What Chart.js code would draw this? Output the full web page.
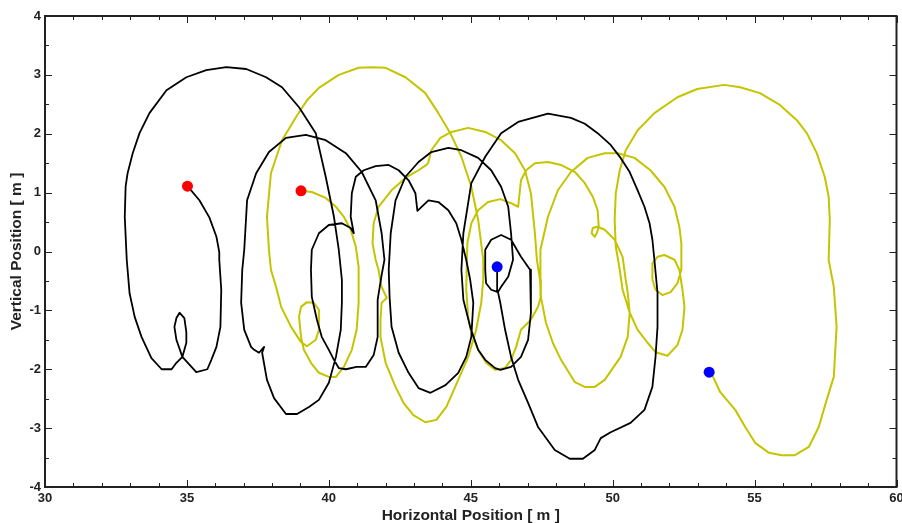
<!DOCTYPE html>
<html>
<head>
<meta charset="utf-8">
<script src="https://cdn.jsdelivr.net/npm/chart.js@4.4.0/dist/chart.umd.min.js"></script>
<style>
  html, body { margin: 0; padding: 0; background: #fff; }
</style>
</head>
<body>
<canvas id="trajectory-chart" width="902" height="523"></canvas>
<script>
// --- AXIS RANGES ---
const X_MIN = 30, X_MAX = 60, X_MAJOR = 5, X_MINOR = 1;
const Y_MIN = -4, Y_MAX = 4, Y_MAJOR = 1, Y_MINOR = 0.5;

// --- TRAJECTORIES [x, y] in metres ---
const blackPath = [
  [35.02,1.11],[35.44,0.87],[35.79,0.58],[36.04,0.25],[36.14,-0.01],[36.14,-0.14],[36.21,-0.65],[36.18,-1.28],
  [36.04,-1.62],[35.86,-1.84],[35.72,-2.00],[35.33,-2.05],[34.84,-1.79],[34.63,-1.50],[34.56,-1.28],[34.63,-1.13],
  [34.74,-1.04],[34.91,-1.13],[34.98,-1.37],[34.98,-1.55],[34.84,-1.79],[34.63,-1.89],[34.46,-2.00],[34.11,-2.00],
  [33.75,-1.81],[33.40,-1.45],[33.16,-1.11],[32.98,-0.71],[32.88,-0.14],[32.81,0.59],[32.84,1.10],[32.91,1.33],
  [33.09,1.67],[33.33,2.01],[33.68,2.35],[34.28,2.74],[34.98,2.96],[35.68,3.08],[36.39,3.13],[37.09,3.10],
  [37.79,2.96],[38.35,2.79],[38.95,2.45],[39.54,2.01],[39.89,1.27],[40.18,0.59],[40.35,0.03],[40.46,-0.48],
  [40.46,-0.87],[40.42,-1.33],[40.25,-1.79],[40.00,-2.23],[39.65,-2.52],[39.30,-2.64],[38.88,-2.76],[38.49,-2.76],
  [38.07,-2.49],[37.82,-2.18],[37.65,-1.72],[37.72,-1.62],[37.54,-1.72],[37.37,-1.67],[37.26,-1.62],[37.02,-1.33],
  [36.91,-0.87],[36.95,-0.31],[37.02,0.03],[37.12,0.87],[37.44,1.33],[37.89,1.69],[38.49,1.93],[39.19,1.98],
  [39.89,1.89],[40.60,1.67],[41.16,1.35],[41.65,0.87],[41.86,0.31],[41.96,-0.14],[41.86,-0.40],[41.72,-0.82],
  [41.72,-1.45],[41.58,-1.76],[41.30,-1.96],[40.98,-1.96],[40.60,-2.00],[40.35,-1.98],[40.18,-1.84],[40.00,-1.67],
  [39.75,-1.45],[39.58,-1.16],[39.40,-0.77],[39.37,-0.31],[39.40,0.03],[39.65,0.31],[40.00,0.45],[40.46,0.48],
  [40.77,0.40],[40.88,0.31],[40.77,0.59],[40.81,0.99],[40.95,1.27],[41.23,1.38],[41.65,1.45],[42.11,1.47],
  [42.46,1.38],[42.81,1.21],[43.05,0.99],[43.12,0.69],[43.51,0.87],[43.86,0.84],[44.21,0.70],[44.49,0.48],
  [44.67,0.20],[44.84,-0.14],[44.98,-0.48],[45.09,-0.87],[45.02,-1.45],[44.84,-1.79],[44.56,-2.06],[44.11,-2.27],
  [43.58,-2.40],[43.16,-2.32],[42.81,-2.06],[42.46,-1.72],[42.21,-1.28],[42.14,-0.77],[42.11,-0.31],[42.18,0.31],
  [42.35,0.87],[42.70,1.27],[43.16,1.52],[43.61,1.69],[44.21,1.76],[44.67,1.72],[45.26,1.59],[45.72,1.38],
  [46.07,1.10],[46.32,0.76],[46.42,0.31],[46.49,-0.14],[46.32,-0.43],[46.07,-0.60],[45.96,-0.69],[45.72,-0.65],
  [45.54,-0.54],[45.51,-0.31],[45.51,0.03],[45.72,0.20],[46.07,0.28],[46.42,0.20],[46.77,-0.09],[47.09,-0.31],
  [47.12,-1.04],[47.02,-1.50],[46.77,-1.79],[46.42,-1.96],[46.04,-2.01],[45.86,-1.98],[45.51,-1.84],[45.26,-1.67],
  [44.98,-1.28],[44.74,-0.82],[44.67,-0.31],[44.74,0.31],[45.02,1.16],[45.51,1.61],[46.07,2.01],[46.67,2.20],
  [47.72,2.34],[48.53,2.27],[49.02,2.17],[49.47,2.01],[49.93,1.81],[50.28,1.59],[50.60,1.35],[50.88,1.04],
  [51.12,0.76],[51.30,0.48],[51.40,0.20],[51.47,-0.14],[51.58,-0.70],[51.58,-1.28],[51.51,-1.79],[51.40,-2.30],
  [51.12,-2.69],[50.63,-2.91],[49.93,-3.07],[49.58,-3.17],[49.37,-3.37],[48.95,-3.52],[48.49,-3.52],[47.96,-3.37],
  [47.37,-2.98],[47.02,-2.57],[46.67,-2.18],[46.42,-1.79],[46.21,-1.33],[46.04,-0.87],[45.96,-0.69],[45.93,-0.26]
];

const yellowPath = [
  [39.02,1.03],[39.40,1.01],[39.89,0.91],[40.25,0.76],[40.53,0.59],[40.77,0.37],[40.95,0.08],[41.05,-0.26],
  [41.05,-0.87],[40.98,-1.33],[40.81,-1.67],[40.53,-1.96],[40.25,-2.13],[40.00,-2.13],[39.65,-2.06],[39.37,-1.89],
  [39.12,-1.67],[39.02,-1.45],[38.95,-1.11],[39.02,-0.94],[39.23,-0.86],[39.47,-0.87],[39.65,-0.99],[39.65,-1.33],
  [39.54,-1.50],[39.23,-1.61],[39.02,-1.54],[38.67,-1.28],[38.32,-0.94],[38.14,-0.60],[37.96,-0.31],[37.89,0.03],
  [37.82,0.59],[37.96,1.33],[38.35,1.89],[38.84,2.28],[39.23,2.57],[39.65,2.78],[40.35,3.00],[41.05,3.12],
  [41.51,3.13],[42.00,3.12],[42.70,2.96],[43.40,2.69],[43.86,2.35],[44.28,2.01],[44.67,1.61],[45.02,1.10],
  [45.26,0.54],[45.44,-0.14],[45.44,-0.48],[45.37,-0.87],[45.19,-1.33],[44.91,-1.79],[44.56,-2.18],[44.14,-2.64],
  [43.79,-2.86],[43.40,-2.90],[42.98,-2.78],[42.63,-2.57],[42.35,-2.30],[42.00,-1.89],[41.82,-1.45],[41.82,-1.16],
  [41.86,-0.87],[42.04,-0.79],[41.86,-0.60],[41.75,-0.31],[41.65,-0.14],[41.54,0.14],[41.58,0.48],[41.75,0.76],
  [42.21,1.04],[42.70,1.25],[43.16,1.38],[43.44,1.47],[43.51,1.52],[43.61,1.72],[43.93,1.93],[44.32,2.03],
  [44.91,2.10],[45.51,2.03],[46.07,1.89],[46.56,1.67],[46.91,1.38],[47.12,0.99],[47.26,0.31],[47.33,-0.14],
  [47.44,-0.48],[47.47,-0.77],[47.37,-0.94],[47.12,-1.16],[46.77,-1.33],[46.60,-1.62],[46.42,-1.84],[46.21,-1.98],
  [45.86,-2.01],[45.54,-1.89],[45.26,-1.67],[45.02,-1.38],[44.91,-1.11],[44.84,-0.65],[44.88,0.14],[45.02,0.48],
  [45.26,0.70],[45.61,0.84],[46.04,0.89],[46.42,0.82],[46.67,0.76],[46.77,1.21],[46.95,1.38],[47.26,1.50],
  [47.72,1.52],[48.18,1.47],[48.67,1.35],[49.02,1.16],[49.30,0.93],[49.47,0.70],[49.51,0.42],[49.44,0.31],
  [49.37,0.25],[49.26,0.31],[49.30,0.40],[49.47,0.42],[49.72,0.37],[50.07,0.20],[50.35,-0.09],[50.46,-0.48],
  [50.53,-0.70],[50.60,-1.04],[50.53,-1.45],[50.28,-1.79],[49.72,-2.18],[49.37,-2.30],[49.02,-2.30],[48.67,-2.22],
  [48.18,-1.84],[47.89,-1.55],[47.65,-1.21],[47.47,-0.77],[47.44,-0.31],[47.47,0.03],[47.72,0.59],[48.07,1.04],
  [48.53,1.35],[49.12,1.59],[49.72,1.67],[50.18,1.67],[50.77,1.59],[51.33,1.38],[51.82,1.10],[52.18,0.76],
  [52.35,0.42],[52.42,0.14],[52.42,-0.31],[52.28,-0.54],[52.04,-0.69],[51.75,-0.74],[51.51,-0.65],[51.40,-0.48],
  [51.40,-0.20],[51.58,-0.09],[51.82,-0.06],[52.18,-0.14],[52.35,-0.31],[52.46,-0.65],[52.53,-0.94],[52.46,-1.33],
  [52.28,-1.59],[51.93,-1.77],[51.51,-1.71],[51.23,-1.55],[50.88,-1.33],[50.60,-1.04],[50.35,-0.65],[50.25,-0.31],
  [50.11,0.08],[50.07,0.54],[50.11,0.99],[50.25,1.38],[50.46,1.72],[50.88,2.06],[51.47,2.35],[52.28,2.62],
  [52.98,2.76],[53.93,2.83],[54.49,2.79],[55.19,2.69],[55.89,2.49],[56.49,2.23],[56.84,2.01],[57.19,1.67],
  [57.47,1.27],[57.61,0.93],[57.65,0.54],[57.61,-0.14],[57.79,-0.60],[57.89,-1.28],[57.79,-2.13],[57.54,-2.52],
  [57.26,-2.98],[56.91,-3.32],[56.42,-3.46],[55.96,-3.46],[55.51,-3.42],[55.02,-3.25],[54.67,-2.98],[54.32,-2.69],
  [53.79,-2.39],[53.51,-2.10],[53.40,-2.05]
];

// --- START / END MARKERS ---
const startPoints = [[35.02,1.11],[39.02,1.03]];
const endPoints = [[45.93,-0.26],[53.40,-2.05]];

const toXY = pts => pts.map(([x, y]) => ({ x, y }));

const LABEL_FONT = { family: "'Liberation Sans', Arial, sans-serif", size: 13, weight: 'bold' };
const TITLE_FONT = { family: "'Liberation Sans', Arial, sans-serif", size: 15.5, weight: 'bold' };

// inward tick marks and the box round the plot
const frameTicks = {
  id: 'frameTicks',
  afterDraw(chart) {
    const { ctx, chartArea: a, scales: { x, y } } = chart;
    ctx.save();
    ctx.strokeStyle = '#222';
    ctx.lineWidth = 1;
    ctx.beginPath();
    for (let v = X_MIN; v <= X_MAX; v += X_MINOR) {
      const px = Math.round(x.getPixelForValue(v)) + 0.5;
      const len = v % X_MAJOR === 0 ? 7 : 4;
      ctx.moveTo(px, a.bottom); ctx.lineTo(px, a.bottom - len);
      ctx.moveTo(px, a.top); ctx.lineTo(px, a.top + len);
    }
    for (let v = Y_MIN; v <= Y_MAX; v += Y_MINOR) {
      const py = Math.round(y.getPixelForValue(v)) + 0.5;
      const len = v % Y_MAJOR === 0 ? 7 : 4;
      ctx.moveTo(a.left, py); ctx.lineTo(a.left + len, py);
      ctx.moveTo(a.right, py); ctx.lineTo(a.right - len, py);
    }
    ctx.stroke();
    ctx.lineWidth = 2;
    ctx.strokeRect(a.left, a.top, a.right - a.left, a.bottom - a.top);
    ctx.restore();
  }
};

new Chart(document.getElementById('trajectory-chart'), {
  type: 'scatter',
  data: {
    datasets: [
      { data: toXY(startPoints), pointRadius: 5.5, pointBackgroundColor: '#ff0000', pointBorderWidth: 0, showLine: false },
      { data: toXY(endPoints), pointRadius: 5.5, pointBackgroundColor: '#0000ff', pointBorderWidth: 0, showLine: false },
      { data: toXY(blackPath), showLine: true, borderColor: '#000000', borderWidth: 1.8, pointRadius: 0, tension: 0, borderJoinStyle: 'round' },
      { data: toXY(yellowPath), showLine: true, borderColor: '#c4c400', borderWidth: 2, pointRadius: 0, tension: 0, borderJoinStyle: 'round' }
    ]
  },
  options: {
    responsive: false,
    animation: false,
    layout: { padding: { top: 16, right: 2, left: 0, bottom: 0 } },
    plugins: { legend: { display: false }, tooltip: { enabled: false } },
    scales: {
      x: {
        type: 'linear', min: X_MIN, max: X_MAX,
        grid: { display: false, drawTicks: false },
        border: { display: false },
        ticks: { stepSize: X_MAJOR, font: LABEL_FONT, color: '#222', padding: 4, maxRotation: 0, autoSkip: false },
        title: { display: true, text: 'Horizontal Position [ m ]', font: TITLE_FONT, color: '#222', padding: { top: 0, bottom: -2 } },
        afterFit: s => { s.height = 36; s.paddingLeft = 0; s.paddingRight = 0; }
      },
      y: {
        type: 'linear', min: Y_MIN, max: Y_MAX,
        grid: { display: false, drawTicks: false },
        border: { display: false },
        ticks: { stepSize: Y_MAJOR, font: LABEL_FONT, color: '#222', padding: 4, autoSkip: false },
        title: { display: true, text: 'Vertical Position [ m ]', font: TITLE_FONT, color: '#222', padding: { top: 7, bottom: 0 } },
        afterFit: s => { s.width = 45; s.paddingTop = 0; s.paddingBottom = 0; }
      }
    }
  },
  plugins: [frameTicks]
});
</script>
</body>
</html>
